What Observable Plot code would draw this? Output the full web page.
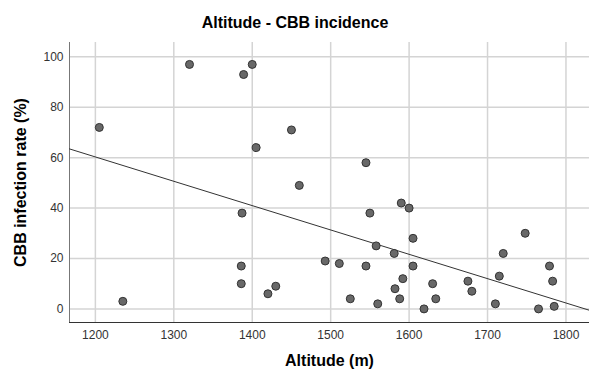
<!DOCTYPE html>
<html>
<head>
<meta charset="utf-8">
<script src="https://cdn.jsdelivr.net/npm/d3@7"></script>
<script src="https://cdn.jsdelivr.net/npm/@observablehq/plot@0.6"></script>
<style>
  html, body { margin: 0; padding: 0; background: #fff; }
</style>
</head>
<body>
<div id="chart"></div>
<script>
const title = "Altitude - CBB incidence";
const xLabel = "Altitude (m)";
const yLabel = "CBB infection rate (%)";
const xTicks = [1200, 1300, 1400, 1500, 1600, 1700, 1800];
const yTicks = [0, 20, 40, 60, 80, 100];
const xDomain = [1167, 1830];
const yDomain = [-5.4, 105.7];

// altitude (m) and infection rate (%) per site
const altitude = [
  1205, 1235, 1320, 1389, 1400, 1405, 1450, 1460,
  1387, 1386, 1386, 1420, 1430,
  1493, 1511, 1525, 1545, 1545, 1550, 1558, 1560,
  1581, 1582, 1588, 1590, 1592, 1600, 1605, 1605,
  1619, 1630, 1634, 1675, 1680, 1710, 1715, 1720,
  1748, 1765, 1779, 1783, 1785
];
const infection = [
  72, 3, 97, 93, 97, 64, 71, 49,
  38, 17, 10, 6, 9,
  19, 18, 4, 58, 17, 38, 25, 2,
  22, 8, 4, 42, 12, 40, 28, 17,
  0, 10, 4, 11, 7, 2, 13, 22,
  30, 0, 17, 11, 1
];

const data = altitude.map((a, i) => ({altitude: a, infection: infection[i]}));

// least-squares fit
const mx = d3.mean(altitude), my = d3.mean(infection);
const sxy = d3.sum(data, d => (d.altitude - mx) * (d.infection - my));
const sxx = d3.sum(data, d => (d.altitude - mx) ** 2);
const slope = sxy / sxx;
const intercept = my - slope * mx;

const chart = Plot.plot({
  width: 589,
  height: 374,
  marginLeft: 69,
  marginRight: 0,
  marginTop: 42,
  marginBottom: 52,
  style: {fontFamily: "'Liberation Sans', Arial, sans-serif", fontSize: "12px", color: "#333", background: "#fff"},
  x: {domain: xDomain},
  y: {domain: yDomain},
  marks: [
    Plot.gridX(xTicks, {stroke: "#d4d4d4", strokeOpacity: 1, strokeWidth: 1.5}),
    Plot.gridY(yTicks, {stroke: "#d4d4d4", strokeOpacity: 1, strokeWidth: 1.5}),
    Plot.axisX(xTicks, {tickSize: 0, tickPadding: 7.5, label: null, fontSize: 12, tickFormat: d => String(d)}),
    Plot.axisY(yTicks, {tickSize: 0, tickPadding: 6, label: null, fontSize: 12, tickFormat: d => String(d)}),
    Plot.ruleX([xDomain[0]], {stroke: "#777", strokeWidth: 1}),
    Plot.ruleY([yDomain[0]], {stroke: "#333", strokeWidth: 1}),
    Plot.line(xDomain, {x: d => d, y: d => intercept + slope * d, stroke: "#333", strokeWidth: 1}),
    Plot.dot(data, {x: "altitude", y: "infection", r: 4, fill: "#686868", stroke: "#333", strokeWidth: 1}),
    Plot.text([title], {frameAnchor: "top", textAnchor: "middle", lineAnchor: "middle", dy: -20, dx: -34.5, fontWeight: "bold", fontSize: 16, fill: "#000"}),
    Plot.text([xLabel], {frameAnchor: "bottom", textAnchor: "middle", lineAnchor: "middle", dy: 38.5, fontWeight: "bold", fontSize: 16, fill: "#000"}),
    Plot.text([yLabel], {frameAnchor: "left", textAnchor: "middle", lineAnchor: "middle", rotate: -90, dx: -49, fontWeight: "bold", fontSize: 16, fill: "#000"})
  ]
});
document.getElementById("chart").appendChild(chart);
</script>
</body>
</html>
